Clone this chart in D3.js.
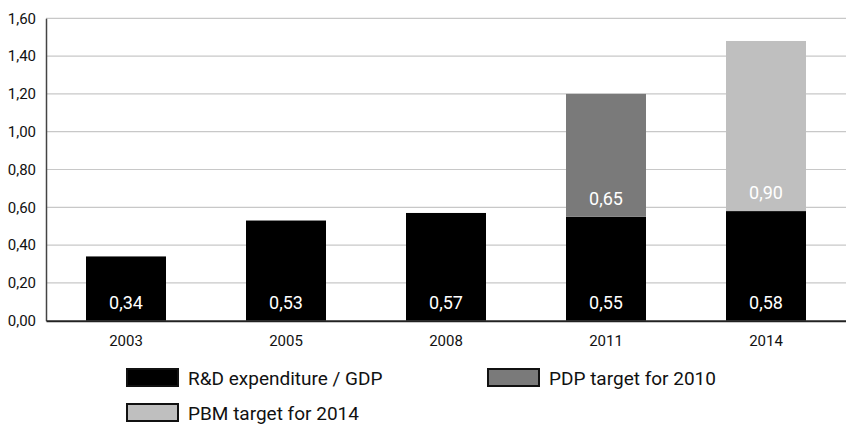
<!DOCTYPE html>
<html><head><meta charset="utf-8">
<script src="https://cdn.jsdelivr.net/npm/d3@7"></script>
<style>
body{margin:0;background:#fff;}
text{font-family:"Roboto","Liberation Sans",sans-serif;}
</style></head>
<body><svg id="c" width="846" height="426"></svg>
<script>
const years = ["2003","2005","2008","2011","2014"];
const rdValues = [0.34, 0.53, 0.57, 0.55, 0.58];
const pdpValues = [0, 0, 0, 0.65, 0];
const pbmValues = [0, 0, 0, 0, 0.90];
const yTicks = [0,0.2,0.4,0.6,0.8,1.0,1.2,1.4,1.6];
const seriesNames = ["R&D expenditure / GDP","PDP target for 2010","PBM target for 2014"];
const colors = ["#000000","#7a7a7a","#bfbfbf"];

(function(){
const svg = d3.select("#c");
const mLeft = 46, mRight = 846, mTop = 18.3, mBottom = 320.7;
const x = d3.scaleBand().domain(years).range([mLeft, mRight]).paddingInner(0.5).paddingOuter(0.25);
const y = d3.scaleLinear().domain([0,1.6]).range([mBottom, mTop]);
const fmt = v => d3.format(".2f")(v).replace(".", ",");

// gridlines
svg.append("g").selectAll("line").data(yTicks.filter(d=>d>0)).join("line")
  .attr("x1", mLeft).attr("x2", mRight).attr("y1", d=>y(d)).attr("y2", d=>y(d))
  .attr("stroke", "#c8c8c8").attr("stroke-width", 1.2);

// y axis
const ya = svg.append("g").attr("transform", `translate(${mLeft},0)`)
  .call(d3.axisLeft(y).tickValues(yTicks).tickFormat(fmt).tickSize(0).tickPadding(10));
ya.select(".domain").attr("stroke", "#444").attr("stroke-width", 1.5);
ya.selectAll("text").attr("font-size", 15).attr("fill", "#111");

// stacked data
const rows = years.map((yr,i)=>({year:yr, rd:rdValues[i], pdp:pdpValues[i], pbm:pbmValues[i]}));
const stack = d3.stack().keys(["rd","pdp","pbm"])(rows);
stack.forEach((s, si) => {
  const g = svg.append("g");
  g.selectAll("rect").data(s.filter(d => d[1]-d[0] > 0)).join("rect")
    .attr("x", d => x(d.data.year)).attr("width", x.bandwidth())
    .attr("y", d => y(d[1])).attr("height", d => y(d[0]) - y(d[1]))
    .attr("fill", colors[si]);
  g.selectAll("text").data(s.filter(d => d[1]-d[0] > 0)).join("text")
    .attr("x", d => x(d.data.year) + x.bandwidth()/2)
    .attr("y", d => y(d[0]) - 12)
    .attr("text-anchor", "middle").attr("font-size", 18).attr("fill", "#fff")
    .text(d => fmt(d[1]-d[0]));
});

// x axis
const xa = svg.append("g").attr("transform", `translate(0,${mBottom})`)
  .call(d3.axisBottom(x).tickSize(0).tickPadding(14.5));
xa.select(".domain").attr("stroke", "#222").attr("stroke-width", 2);
xa.selectAll("text").attr("font-size", 15).attr("fill", "#111");

// legend
const legendPos = [[126,368],[487,368],[126,403]];
const lg = svg.append("g");
seriesNames.forEach((n,i)=>{
  const [lx,ly] = legendPos[i];
  lg.append("rect").attr("x", lx+1).attr("y", ly+1).attr("width", 51).attr("height", 17)
    .attr("fill", colors[i]).attr("stroke", "#111").attr("stroke-width", 2);
  lg.append("text").attr("x", lx+62).attr("y", ly+16.5).attr("font-size", 19).attr("fill", "#111").text(n);
});
})();
</script></body></html>
